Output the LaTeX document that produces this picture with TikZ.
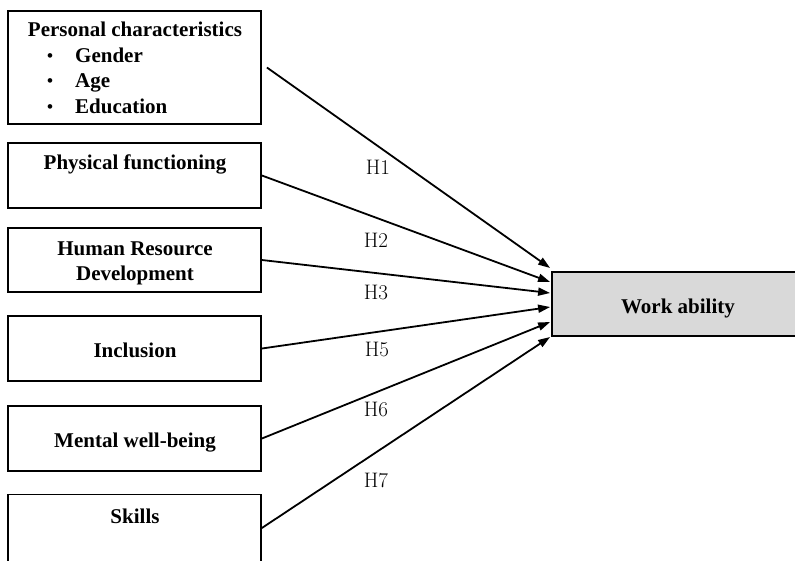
\documentclass[tikz,border=0pt]{standalone}
\usepackage{fontspec}
\newfontfamily\tnr{Liberation Serif}
\usetikzlibrary{arrows.meta,calc}
\definecolor{outcomefill}{HTML}{D9D9D9}
\tikzset{
  box/.style={draw, line width=1.8pt, minimum width=253pt, inner sep=0pt},
  lbl/.style={font=\tnr\bfseries\fontsize{21}{25}\selectfont, inner sep=0pt, anchor=base},
  hyp/.style={font=\fontsize{21}{25}\selectfont, inner sep=0pt},
  link/.style={line width=1.8pt, -{Triangle[length=12pt,width=8pt]}}
}
\begin{document}
\begin{tikzpicture}[x=1pt,y=-1pt]
\useasboundingbox (0,0) rectangle (795,560);
\clip (0,0) rectangle (795,560);

% predictor boxes
\node[box, minimum height=113pt] (b1) at (134.5,67.5) {};
\node[box, minimum height=65pt] (b2) at (134.5,175.5) {};
\node[box, minimum height=64pt] (b3) at (134.5,260) {};
\node[box, minimum height=65pt] (b4) at (134.5,348.5) {};
\node[box, minimum height=65pt] (b5) at (134.5,438.5) {};
\node[box, minimum height=71pt] (b6) at (134.5,530) {};

% outcome box
\node[box, minimum width=250pt, minimum height=64pt, fill=outcomefill] (work) at (677,304) {};

% box texts
\node[lbl] (t1) at (135,36) {Personal characteristics};
\node[lbl, font=\tnr\bfseries\fontsize{17}{25}\selectfont] (d1) at (50,61) {\textbullet};
\node[lbl, anchor=base west] (t1a) at (75,62) {Gender};
\node[lbl, font=\tnr\bfseries\fontsize{17}{25}\selectfont] (d2) at (50,86) {\textbullet};
\node[lbl, anchor=base west] (t1b) at (75,87) {Age};
\node[lbl, font=\tnr\bfseries\fontsize{17}{25}\selectfont] (d3) at (50,112) {\textbullet};
\node[lbl, anchor=base west] (t1c) at (75,113) {Education};
\node[lbl] (t2) at (135,169) {Physical functioning};
\node[lbl] (t3a) at (135,255) {Human Resource};
\node[lbl] (t3b) at (135,280) {Development};
\node[lbl] (t4) at (135,357) {Inclusion};
\node[lbl] (t5) at (135,447) {Mental well-being};
\node[lbl] (t6) at (135,523) {Skills};
\node[lbl] (tw) at (678,313) {Work ability};

% arrow end points on the outcome box
\coordinate (e1) at ($(work.west)+(-1,-36)$);
\coordinate (e2) at ($(work.west)+(-1,-22)$);
\coordinate (e3) at ($(work.west)+(-1,-11)$);
\coordinate (e5) at ($(work.west)+(-1,3)$);
\coordinate (e6) at ($(work.west)+(-1,18)$);
\coordinate (e7) at ($(work.west)+(-1,33)$);

% hypothesised paths
\draw[link] ($(b1.east)+(5,0)$) -- (e1);
\draw[link] (b2.east) -- (e2);
\draw[link] (b3.east) -- (e3);
\draw[link] (b4.east) -- (e5);
\draw[link] (b5.east) -- (e6);
\draw[link] ($(b6.east)+(0,-2)$) -- (e7);

% hypothesis labels
\node[hyp] (h1) at (378,167) {H1};
\node[hyp] (h2) at (376,240) {H2};
\node[hyp] (h3) at (376,292) {H3};
\node[hyp] (h5) at (377,349) {H5};
\node[hyp] (h6) at (376,409) {H6};
\node[hyp] (h7) at (376,480) {H7};
\end{tikzpicture}
\end{document}
